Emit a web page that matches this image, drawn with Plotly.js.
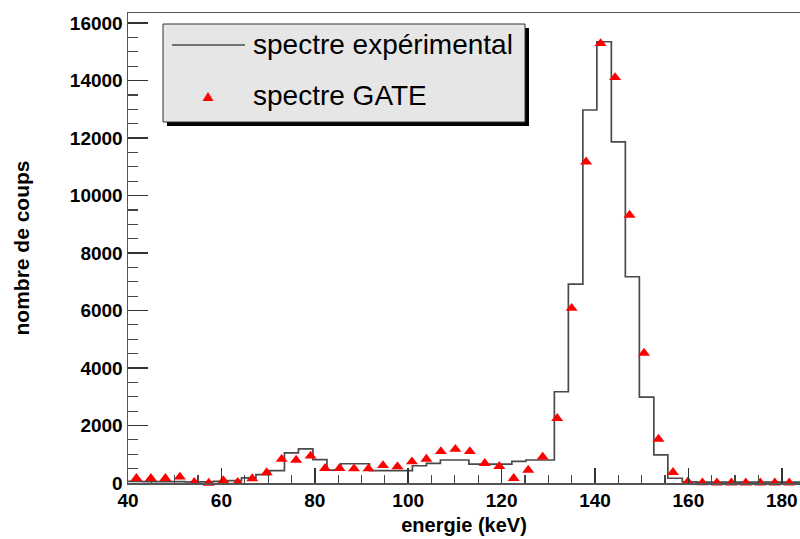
<!DOCTYPE html>
<html>
<head>
<meta charset="utf-8">
<script src="https://cdn.plot.ly/plotly-3.0.1.min.js"></script>
<style>
html,body{margin:0;padding:0;background:#fff;overflow:hidden;}
#chart{width:800px;height:539px;}
</style>
</head>
<body>
<div id="chart"></div>
<script>
// Experimental spectrum: histogram bin edges (keV) and counts per bin
const histEdges = [40.0, 43.0, 46.1, 49.1, 52.2, 55.2, 58.3, 61.3, 64.3, 67.4,
  70.4, 73.5, 76.5, 79.6, 82.6, 85.6, 88.7, 91.7, 94.8, 97.8,
  100.9, 103.9, 106.9, 110.0, 113.0, 116.1, 119.1, 122.2, 125.2, 128.2,
  131.3, 134.3, 137.4, 140.4, 143.5, 146.5, 149.5, 152.6, 155.6, 158.7,
  161.7, 164.8, 167.8, 170.8, 173.9, 176.9, 180.0, 183.0, 186.1];
const histCounts = [60, 50, 50, 50, 40, 40, 60, 80, 180, 290,
  430, 1045, 1190, 810, 450, 670, 670, 430, 430, 430,
  600, 680, 800, 800, 660, 660, 660, 750, 800, 800,
  3175, 6920, 12975, 15350, 11870, 7175, 2990, 975, 165, 40,
  30, 30, 30, 30, 30, 30, 30, 30];

// GATE simulated spectrum: energies (keV) and counts
const gateEnergy = [41.8, 44.9, 48.0, 51.1, 54.2, 57.3, 60.4, 63.5, 66.6, 69.7,
  72.9, 76.0, 79.1, 82.2, 85.3, 88.4, 91.5, 94.6, 97.7, 100.8,
  103.9, 107.0, 110.1, 113.2, 116.4, 119.5, 122.6, 125.7, 128.8, 131.9,
  135.0, 138.1, 141.2, 144.3, 147.4, 150.5, 153.6, 156.7, 159.9, 163.0,
  166.1, 169.2, 172.3, 175.4, 178.5, 181.6];
const gateCounts = [163, 163, 163, 210, 30, 0, 85, 30, 155, 365,
  830, 800, 940, 510, 510, 500, 500, 610, 570, 740,
  835, 1100, 1175, 1100, 685, 580, 163, 450, 905, 2250,
  6080, 11175, 15290, 14110, 9320, 4520, 1530, 370, 45, 10,
  5, 5, 5, 5, 5, 5];

// Tick labels
const xTickVals = [40, 60, 80, 100, 120, 140, 160, 180];
const yTickVals = [0, 2000, 4000, 6000, 8000, 10000, 12000, 14000, 16000];

const legendNames = ["spectre expérimental", "spectre GATE"];

// step line: repeat last count at final edge
const histY = histCounts.concat([histCounts[histCounts.length - 1]]);

const traces = [
  {
    type: 'scatter', mode: 'lines', name: legendNames[0],
    x: histEdges, y: histY,
    line: {shape: 'hv', color: '#4a4a4a', width: 1.7},
    showlegend: false, hoverinfo: 'x+y'
  },
  {
    type: 'scatter', mode: 'markers', name: legendNames[1],
    x: gateEnergy, y: gateCounts,
    marker: {symbol: 'triangle-up', size: 10.5, color: '#ff0000'},
    showlegend: false, cliponaxis: false
  }
];

const W = 672, H = 470, L = 128, T = 13;
function px(x) { return (x - L) / W; }
function py(y) { return (T + H - y) / H; }

const font = "'Liberation Sans', Arial, Helvetica, sans-serif";

const layout = {
  width: 800, height: 539,
  margin: {l: 128, r: 0, t: 13, b: 56, pad: 0},
  paper_bgcolor: '#ffffff', plot_bgcolor: '#ffffff',
  font: {family: font, color: '#000'},
  showlegend: false,
  xaxis: {
    range: [40, 183.9], showgrid: false, zeroline: false,
    showline: true, linecolor: '#555', linewidth: 1.5, mirror: true,
    ticks: 'inside', ticklen: 15, tickwidth: 1.5, tickcolor: '#333',
    tickmode: 'array', tickvals: xTickVals, ticktext: xTickVals.map(String),
    tickfont: {family: font, size: 19, color: '#000', weight: 'bold'},
    minor: {ticks: 'inside', ticklen: 8, dtick: 5, tickwidth: 1.2, tickcolor: '#444', showgrid: false},
    title: {text: 'energie (keV)', font: {family: font, size: 20, color: '#000', weight: 'bold'}, standoff: 7}
  },
  yaxis: {
    range: [0, 16350], showgrid: false, zeroline: false,
    showline: true, linecolor: '#555', linewidth: 1.5, mirror: false,
    ticks: 'inside', ticklen: 20, tickwidth: 1.5, tickcolor: '#333',
    tickmode: 'array', tickvals: yTickVals, ticktext: yTickVals.map(String),
    tickfont: {family: font, size: 19, color: '#000', weight: 'bold'},
    minor: {ticks: 'inside', ticklen: 10, dtick: 500, tickwidth: 1.2, tickcolor: '#444', showgrid: false},
    title: {text: 'nombre de coups', font: {family: font, size: 21, color: '#000', weight: 'bold'}, standoff: 34},
    automargin: false
  },
  shapes: [
    // legend shadow
    {type: 'rect', xref: 'paper', yref: 'paper', x0: px(167), x1: px(529), y0: py(126), y1: py(28),
     fillcolor: '#000', line: {width: 0}, layer: 'above'},
    // legend box
    {type: 'rect', xref: 'paper', yref: 'paper', x0: px(163), x1: px(525), y0: py(122), y1: py(24),
     fillcolor: '#e6e6e6', line: {color: '#333', width: 1}, layer: 'above'},
    // legend line sample
    {type: 'line', xref: 'paper', yref: 'paper', x0: px(172), x1: px(245), y0: py(45), y1: py(45),
     line: {color: '#4a4a4a', width: 1.7}, layer: 'above'},
    // legend triangle sample
    {type: 'path', xref: 'paper', yref: 'paper', xsizemode: 'pixel', ysizemode: 'pixel',
     xanchor: px(208), yanchor: py(97), path: 'M-5.5,-4 L5.5,-4 L0,5 Z',
     fillcolor: '#ff0000', line: {width: 0}, layer: 'above'}
  ],
  annotations: [
    {xref: 'paper', yref: 'paper', x: px(251), y: py(45), xanchor: 'left', yanchor: 'middle',
     text: legendNames[0], showarrow: false, font: {family: font, size: 28, color: '#000'}},
    {xref: 'paper', yref: 'paper', x: px(251), y: py(95), xanchor: 'left', yanchor: 'middle',
     text: legendNames[1], showarrow: false, font: {family: font, size: 28, color: '#000'}}
  ]
};

Plotly.newPlot('chart', traces, layout, {displayModeBar: false, staticPlot: true});
</script>
</body>
</html>
